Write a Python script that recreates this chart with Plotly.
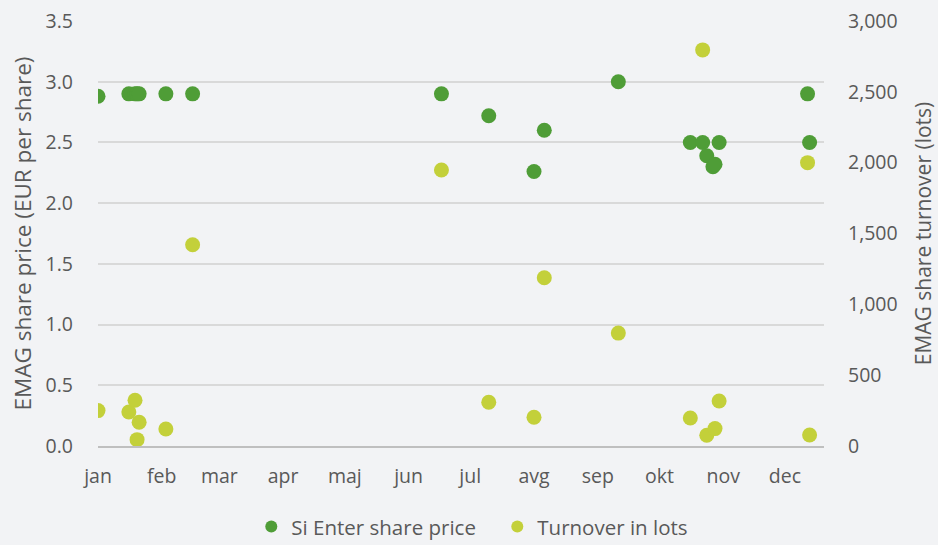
import plotly.graph_objects as go

# Data
price_dates = ["2023-01-01", "2023-01-16", "2023-01-19", "2023-01-20", "2023-01-21",
               "2023-02-03", "2023-02-16", "2023-06-17", "2023-07-10", "2023-08-01",
               "2023-08-06", "2023-09-11", "2023-10-16", "2023-10-22", "2023-10-24",
               "2023-10-27", "2023-10-28", "2023-10-30", "2023-12-12", "2023-12-13"]
price_values = [2.88, 2.90, 2.90, 2.90, 2.90,
                2.90, 2.90, 2.90, 2.72, 2.26,
                2.60, 3.00, 2.50, 2.50, 2.39,
                2.30, 2.32, 2.50, 2.90, 2.50]

turnover_dates = ["2023-01-01", "2023-01-16", "2023-01-19", "2023-01-20", "2023-01-21",
                  "2023-02-03", "2023-02-16", "2023-06-17", "2023-07-10", "2023-08-01",
                  "2023-08-06", "2023-09-11", "2023-10-16", "2023-10-22", "2023-10-24",
                  "2023-10-28", "2023-10-30", "2023-12-12", "2023-12-13"]
turnover_values = [250, 240, 323, 45, 168,
                   120, 1421, 1948, 309, 203,
                   1188, 797, 198, 2796, 76,
                   123, 318, 2000, 78]

month_ticks = ["2023-01-01", "2023-02-01", "2023-03-01", "2023-04-01", "2023-05-01", "2023-06-01",
               "2023-07-01", "2023-08-01", "2023-09-01", "2023-10-01", "2023-11-01", "2023-12-01"]
month_labels = ["jan", "feb", "mar", "apr", "maj", "jun", "jul", "avg", "sep", "okt", "nov", "dec"]

PRICE_COLOR = "#4F9D37"
TURN_COLOR = "#C3D03A"
TEXT = "#595959"
FONT = "Open Sans"

fig = go.Figure()
fig.add_trace(go.Scatter(x=price_dates, y=price_values, mode="markers",
                         name="Si Enter share price",
                         marker=dict(color=PRICE_COLOR, size=15)))
fig.add_trace(go.Scatter(x=turnover_dates, y=turnover_values, mode="markers",
                         name="Turnover in lots", yaxis="y2",
                         marker=dict(color=TURN_COLOR, size=15)))

fig.update_layout(
    width=938, height=545,
    paper_bgcolor="#F2F3F5", plot_bgcolor="#F2F3F5",
    margin=dict(l=98, r=114, t=21, b=99, autoexpand=False),
    font=dict(family=FONT, size=19, color=TEXT),
    showlegend=True,
    legend=dict(orientation="h", x=0.55, xanchor="center", y=-0.19, yanchor="middle",
                font=dict(size=20.5, color=TEXT), bgcolor="rgba(0,0,0,0)",
                itemsizing="constant", itemwidth=30, tracegroupgap=0,
                entrywidth=201, entrywidthmode="pixels"),
    xaxis=dict(type="date", range=["2023-01-01", "2023-12-20"],
               tickvals=month_ticks, ticktext=month_labels, automargin=False,
               showgrid=False, showline=True, linecolor="#BFBFBF", linewidth=1.5,
               ticks="", ticklabelstandoff=12, zeroline=False,
               tickfont=dict(size=19.5, color=TEXT)),
    yaxis=dict(range=[0, 3.5], dtick=0.5, tickformat=".1f", automargin=False,
               showgrid=True, gridcolor="#D9D9D9", gridwidth=1.5,
               zeroline=False, showline=False, ticks="", ticklabelstandoff=24,
               title=dict(text="EMAG share price (EUR per share)", font=dict(size=22.5, color=TEXT),
                          standoff=7),
               tickfont=dict(size=19.5, color=TEXT)),
    yaxis2=dict(range=[0, 3000], dtick=500, tickformat=",", automargin=False,
                overlaying="y", side="right", showgrid=False, zeroline=False,
                showline=False, ticks="", ticklabelstandoff=23,
                title=dict(text="EMAG share turnover (lots)", font=dict(size=21, color=TEXT),
                           standoff=19),
                tickfont=dict(size=19.5, color=TEXT)),
)

fig.write_html("out.html", config={"displayModeBar": False},
               post_script="document.body.style.margin='0';document.body.style.background='#F2F3F5';")
